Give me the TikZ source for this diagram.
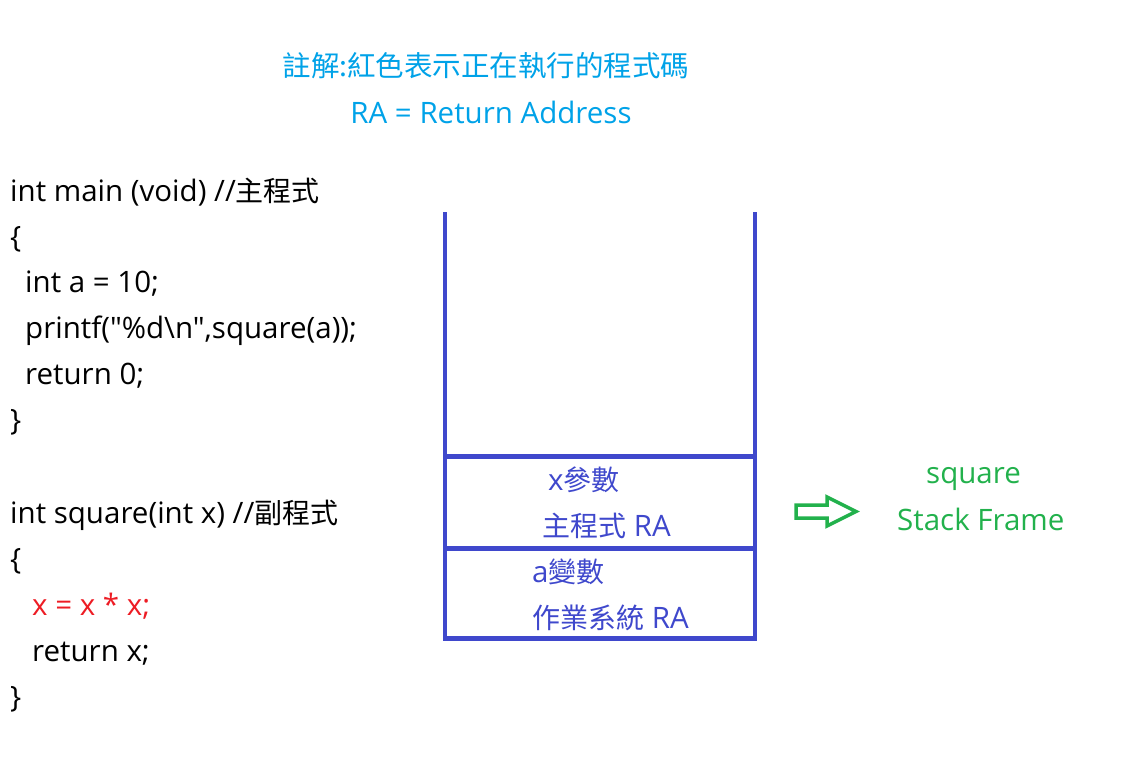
\documentclass[tikz,border=0pt]{standalone}
\usepackage{fontspec}
\newfontfamily\lat{Open Sans}
\newfontfamily\cjk{Noto Sans CJK TC}
\definecolor{titleblue}{RGB}{0,162,232}
\definecolor{stackblue}{RGB}{63,72,204}
\definecolor{pgreen}{RGB}{34,177,76}
\definecolor{pred}{RGB}{237,28,36}
\newcommand{\cj}[1]{{\cjk\fontsize{28}{32}\selectfont #1}}
\tikzset{
  txt/.style={anchor=base west, inner sep=0pt, font=\lat\fontsize{29.5}{32}\selectfont},
  code/.style={txt, text=black},
  stk/.style={txt, text=stackblue},
  grn/.style={txt, text=pgreen},
  ttl/.style={anchor=base, inner sep=0pt, text=titleblue, font=\lat\fontsize{29.5}{32}\selectfont},
  wall/.style={draw=stackblue, line width=4.5pt},
}
\begin{document}
\begin{tikzpicture}[x=1pt,y=-1pt]
\useasboundingbox (0,0) rectangle (1142,774);
% title
\node[ttl, font=\cjk\fontsize{28.5}{32}\selectfont] (t1) at (486,76) {註解:紅色表示正在執行的程式碼};
\node[ttl] (t2) at (491,123) {RA = Return Address};
% main code
\node[code] (m1) at (10,201) {int main (void) //\cj{主程式}};
\node[code] (m2) at (10,247) {\{};
\node[code] (m3) at (25,292) {int a = 10;};
\node[code] (m4) at (25,338) {printf("\%d\textbackslash n",square(a));};
\node[code] (m5) at (25,384) {return 0;};
\node[code] (m6) at (10,430) {\}};
% square code
\node[code] (s1) at (10,523) {int square(int x) //\cj{副程式}};
\node[code] (s2) at (10,569) {\{};
\node[code, text=pred] (s3) at (32,615) {x = x * x;};
\node[code] (s4) at (32,661) {return x;};
\node[code] (s5) at (10,707) {\}};
% stack
\coordinate (tl) at (445,212);
\coordinate (tr) at (755,212);
\coordinate (bl) at (445,638.5);
\coordinate (br) at (755,638.5);
\draw[wall, line join=miter] (tl) -- (bl) -- (br) -- (tr);
\draw[wall] (445,456.5) -- (755,456.5);
\draw[wall] (445,548.5) -- (755,548.5);
\node[stk] (k1) at (548,490) {x\cj{參數}};
\node[stk] (k2) at (542,536) {\cj{主程式} RA};
\node[stk] (k3) at (532,582) {a\cj{變數}};
\node[stk] (k4) at (532,628) {\cj{作業系統} RA};
% arrow
\draw[draw=pgreen, line width=3.5pt, line join=miter] (796,505) -- (827,505) -- (827,497) -- (856,511.5) -- (827,526) -- (827,518) -- (796,518) -- cycle;
\node[grn] (g1) at (926,483) {square};
\node[grn] (g2) at (897,530) {Stack Frame};
\end{tikzpicture}
\end{document}
